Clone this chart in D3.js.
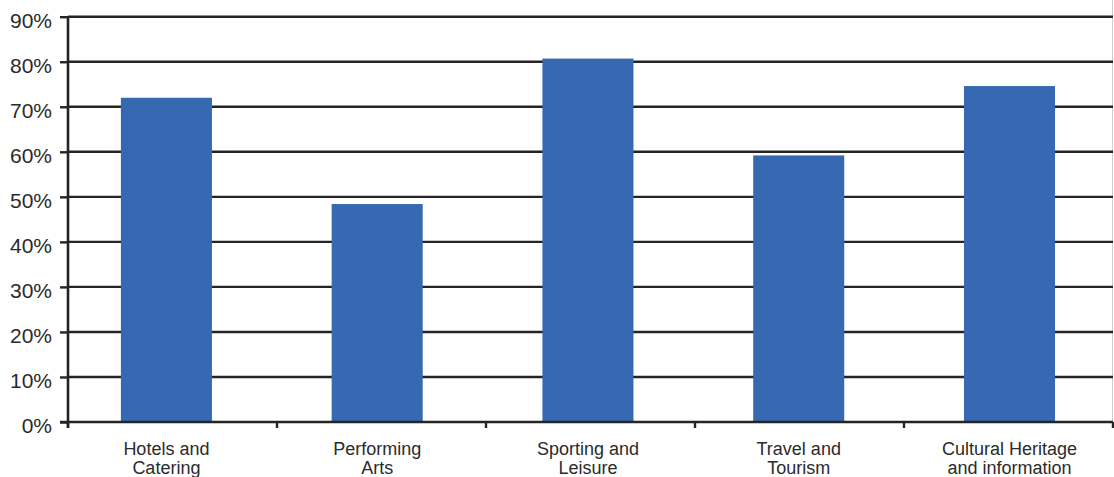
<!DOCTYPE html>
<html>
<head>
<meta charset="utf-8">
<script src="https://cdn.jsdelivr.net/npm/d3@7"></script>
<style>
  html, body { margin: 0; padding: 0; background: #fff; }
  svg { display: block; }
  text { font-family: "Liberation Sans", Arial, sans-serif; fill: #2b2b2b; }
</style>
</head>
<body>
<svg id="chart" width="1114" height="477"></svg>
<script>
// Share of respondents by sector
const categories = [
  ["Hotels and", "Catering"],
  ["Performing", "Arts"],
  ["Sporting and", "Leisure"],
  ["Travel and", "Tourism"],
  ["Cultural Heritage", "and information"]
];
const values = [72, 48.4, 80.7, 59.2, 74.6];
const yTicks = [0, 10, 20, 30, 40, 50, 60, 70, 80, 90];

const plotLeft = 68, plotRight = 1113, plotTop = 16.7, plotBottom = 422;

const svg = d3.select("#chart");

const ids = categories.map((_, i) => i);

const x = d3.scaleBand().domain(ids).range([plotLeft, plotRight]).padding(0);
const xBar = d3.scaleBand().domain(ids).range([plotLeft, plotRight])
  .paddingInner(0.568).paddingOuter(0.263).align(0.477);
const y = d3.scaleLinear().domain([0, 90]).range([plotBottom, plotTop]);

// right border
svg.append("line")
  .attr("x1", plotRight - 0.5).attr("x2", plotRight - 0.5)
  .attr("y1", 0).attr("y2", plotBottom + 6)
  .attr("stroke", "#cfcfcf").attr("stroke-width", 1);

// horizontal gridlines
svg.append("g")
  .selectAll("line")
  .data(yTicks.filter(d => d > 0))
  .join("line")
  .attr("x1", plotLeft).attr("x2", plotRight)
  .attr("y1", d => y(d)).attr("y2", d => y(d))
  .attr("stroke", "#242424").attr("stroke-width", 2.4);

// bars
svg.append("g")
  .selectAll("rect")
  .data(values)
  .join("rect")
  .attr("x", (d, i) => xBar(i))
  .attr("width", xBar.bandwidth())
  .attr("y", d => y(d))
  .attr("height", d => y(0) - y(d))
  .attr("fill", "#3769b2");

// y axis
const yAxis = svg.append("g")
  .attr("transform", `translate(${plotLeft},0)`)
  .call(d3.axisLeft(y).tickValues(yTicks).tickFormat(d => d + "%").tickSize(8).tickPadding(8));
yAxis.select(".domain").attr("stroke", "#242424").attr("stroke-width", 2.6)
  .attr("d", `M0,${plotTop}V${plotBottom + 6}`);
yAxis.selectAll(".tick line").attr("stroke", "#242424").attr("stroke-width", 2.4);
yAxis.selectAll(".tick text")
  .attr("font-size", 21)
  .attr("font-family", "'Liberation Sans', Arial, sans-serif")
  .attr("fill", "#2b2b2b")
  .attr("dy", "0.52em");

// x axis
const xAxis = svg.append("g")
  .attr("transform", `translate(0,${plotBottom})`);
xAxis.append("line")
  .attr("x1", plotLeft - 8).attr("x2", plotRight)
  .attr("y1", 0).attr("y2", 0)
  .attr("stroke", "#242424").attr("stroke-width", 2.6);
const tickPos = ids.map(i => x(i)).concat([plotRight]);
xAxis.selectAll("line.xt")
  .data(tickPos)
  .join("line")
  .attr("class", "xt")
  .attr("x1", d => d).attr("x2", d => d)
  .attr("y1", 0).attr("y2", 6)
  .attr("stroke", "#242424").attr("stroke-width", 2.4);

// category labels (two lines each)
const lab = svg.append("g")
  .selectAll("text")
  .data(categories)
  .join("text")
  .attr("x", (d, i) => xBar(i) + xBar.bandwidth() / 2)
  .attr("y", 455)
  .attr("text-anchor", "middle")
  .attr("font-size", 18);
lab.selectAll("tspan")
  .data(d => d)
  .join("tspan")
  .attr("x", function () { return this.parentNode.getAttribute("x"); })
  .attr("dy", (d, j) => j === 0 ? 0 : 19)
  .text(d => d);
</script>
</body>
</html>
